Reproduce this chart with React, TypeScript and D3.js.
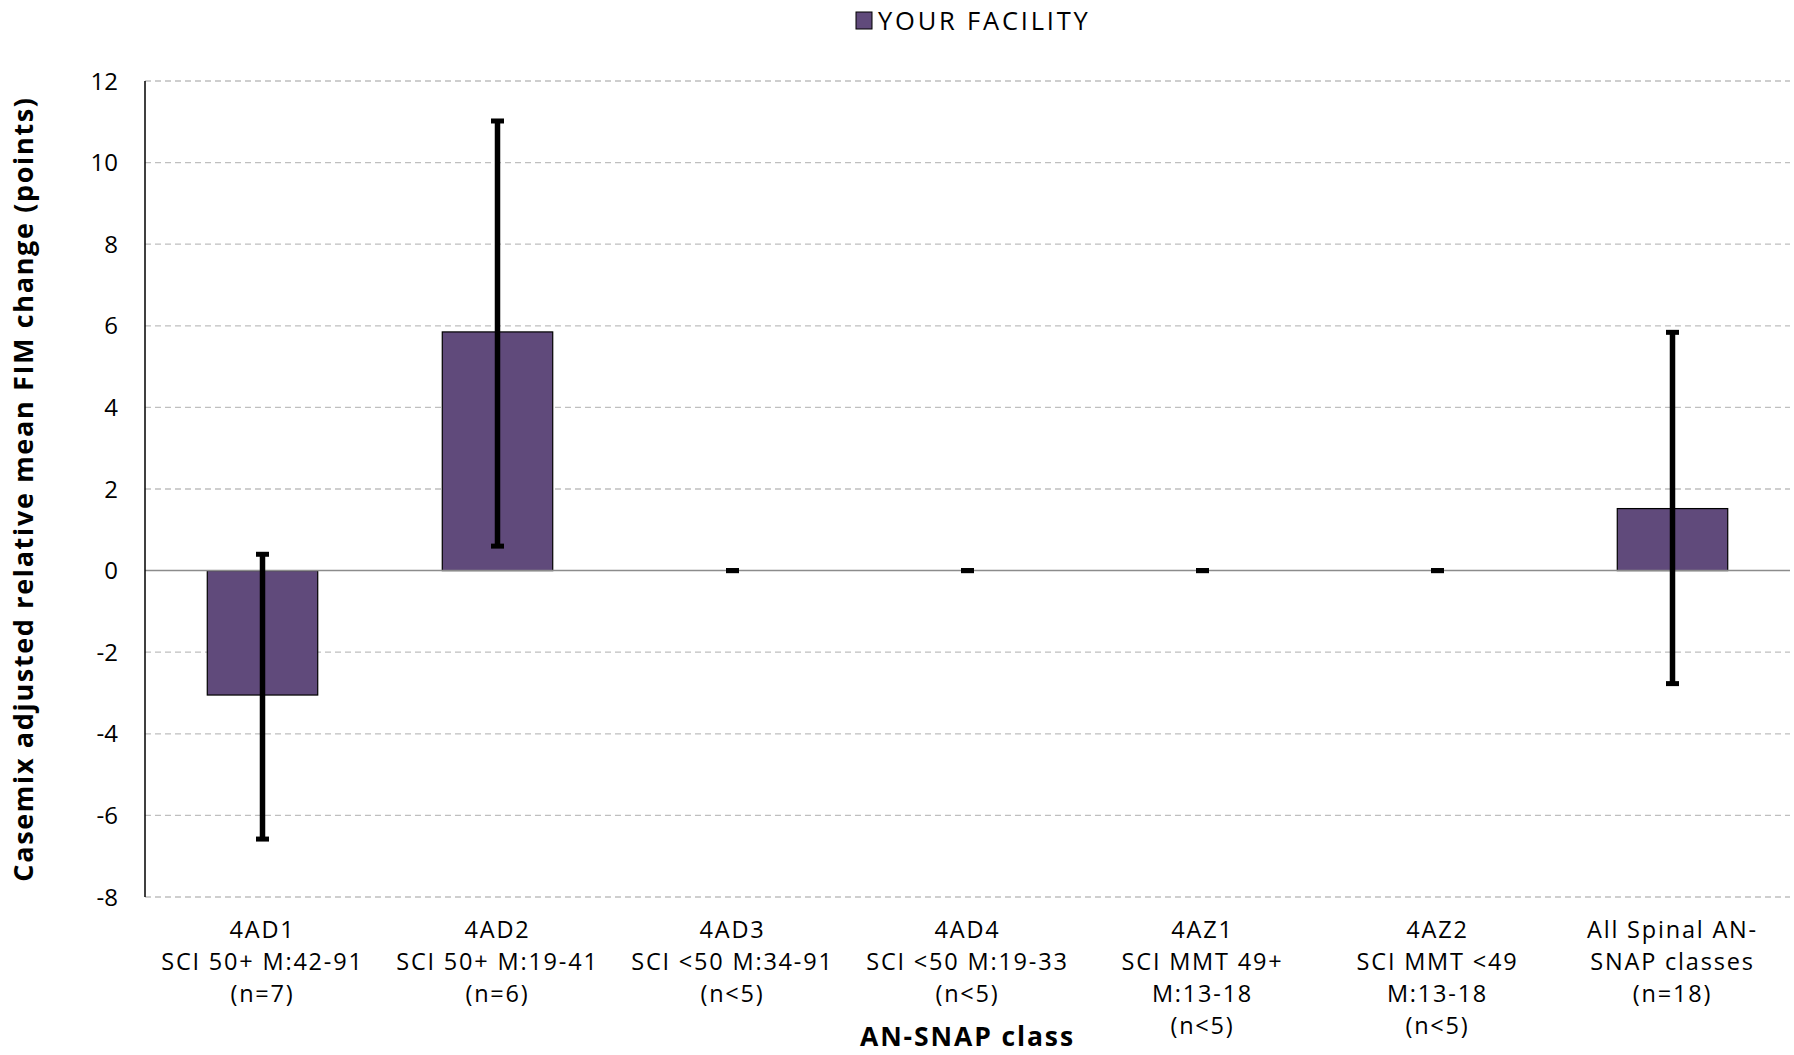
import React from "react";
import * as d3 from "d3";

const categories = ["4AD1", "4AD2", "4AD3", "4AD4", "4AZ1", "4AZ2", "All Spinal"];
const labelLines: string[][] = [
  ["4AD1", "SCI 50+ M:42-91", "(n=7)"],
  ["4AD2", "SCI 50+ M:19-41", "(n=6)"],
  ["4AD3", "SCI <50 M:34-91", "(n<5)"],
  ["4AD4", "SCI <50 M:19-33", "(n<5)"],
  ["4AZ1", "SCI MMT 49+", "M:13-18", "(n<5)"],
  ["4AZ2", "SCI MMT <49", "M:13-18", "(n<5)"],
  ["All Spinal AN-", "SNAP classes", "(n=18)"],
];
const values = [-3.05, 5.85, 0, 0, 0, 0, 1.52];
const errLow = [-6.58, 0.6, 0, 0, 0, 0, -2.77];
const errHigh = [0.4, 11.02, 0, 0, 0, 0, 5.84];
const yTicks = [-8, -6, -4, -2, 0, 2, 4, 6, 8, 10, 12];

const W = 1794;
const H = 1055;
const left = 145;
const right = 1790;
const top = 81;
const bottom = 897;
const font = "'Open Sans', 'DejaVu Sans', sans-serif";

export default function App() {
  const x = d3.scaleBand<string>().domain(categories).range([left, right]).paddingInner(0.53).paddingOuter(0.265);
  const y = d3.scaleLinear().domain([-8, 12]).range([bottom, top]);
  const bw = x.bandwidth();
  const step = (right - left) / categories.length;
  const center = (i: number) => left + step * (i + 0.5);

  return (
    <svg width={W} height={H} style={{ position: "absolute", left: 0, top: 0, background: "#fff" }}>
      {/* legend */}
      <rect x={856} y={12} width={16} height={17} fill="#604A7B" stroke="#000" strokeWidth={1} />
      <text x={878} y={30} fontFamily={font} fontSize={25.5} letterSpacing={2.8} fill="#000">YOUR FACILITY</text>

      {/* gridlines */}
      {yTicks.filter((t) => t !== 0).map((t) => (
        <line key={t} x1={left} x2={right} y1={y(t)} y2={y(t)} stroke="#bfbfbf" strokeWidth={1.3} strokeDasharray="6,4" />
      ))}

      {/* bars */}
      {values.map((v, i) => {
        const cx = center(i);
        if (v === 0) return null;
        return (
          <rect key={i} x={cx - bw / 2} y={y(Math.max(0, v))} width={bw} height={Math.abs(y(v) - y(0))}
            fill="#604A7B" stroke="#000" strokeWidth={1.2} />
        );
      })}

      {/* zero line */}
      <line x1={left} x2={right} y1={y(0)} y2={y(0)} stroke="#8c8c8c" strokeWidth={1.5} />

      {/* error bars */}
      {values.map((v, i) => {
        const cx = center(i);
        const lo = errLow[i];
        const hi = errHigh[i];
        return (
          <g key={i}>
            {hi !== lo && <line x1={cx} x2={cx} y1={y(lo)} y2={y(hi)} stroke="#000" strokeWidth={5.5} />}
            <line x1={cx - 6.5} x2={cx + 6.5} y1={y(hi)} y2={y(hi)} stroke="#000" strokeWidth={5} />
            <line x1={cx - 6.5} x2={cx + 6.5} y1={y(lo)} y2={y(lo)} stroke="#000" strokeWidth={5} />
          </g>
        );
      })}

      {/* y axis */}
      <line x1={left} x2={left} y1={top} y2={bottom} stroke="#000" strokeWidth={1.5} />
      {yTicks.map((t) => (
        <text key={t} x={118} y={y(t) + 8.5} textAnchor="end" fontFamily={font} fontSize={24} fill="#000">{t}</text>
      ))}

      {/* x labels */}
      {labelLines.map((lines, i) => (
        <text key={i} x={center(i)} y={938} textAnchor="middle" fontFamily={font} fontSize={23.5} letterSpacing={1.8} fill="#000">
          {lines.map((l, j) => (
            <tspan key={j} x={center(i)} dy={j === 0 ? 0 : 32}>{l}</tspan>
          ))}
        </text>
      ))}

      {/* axis titles */}
      <text x={(left + right) / 2} y={1046} textAnchor="middle" fontFamily={font} fontSize={26.5} fontWeight="bold" letterSpacing={1.9} fill="#000">AN-SNAP class</text>
      <text transform={`translate(33, ${(top + bottom) / 2}) rotate(-90)`} textAnchor="middle" fontFamily={font} fontSize={27} fontWeight="bold" letterSpacing={1.65} fill="#000">
        Casemix adjusted relative mean FIM  change (points)
      </text>
    </svg>
  );
}
